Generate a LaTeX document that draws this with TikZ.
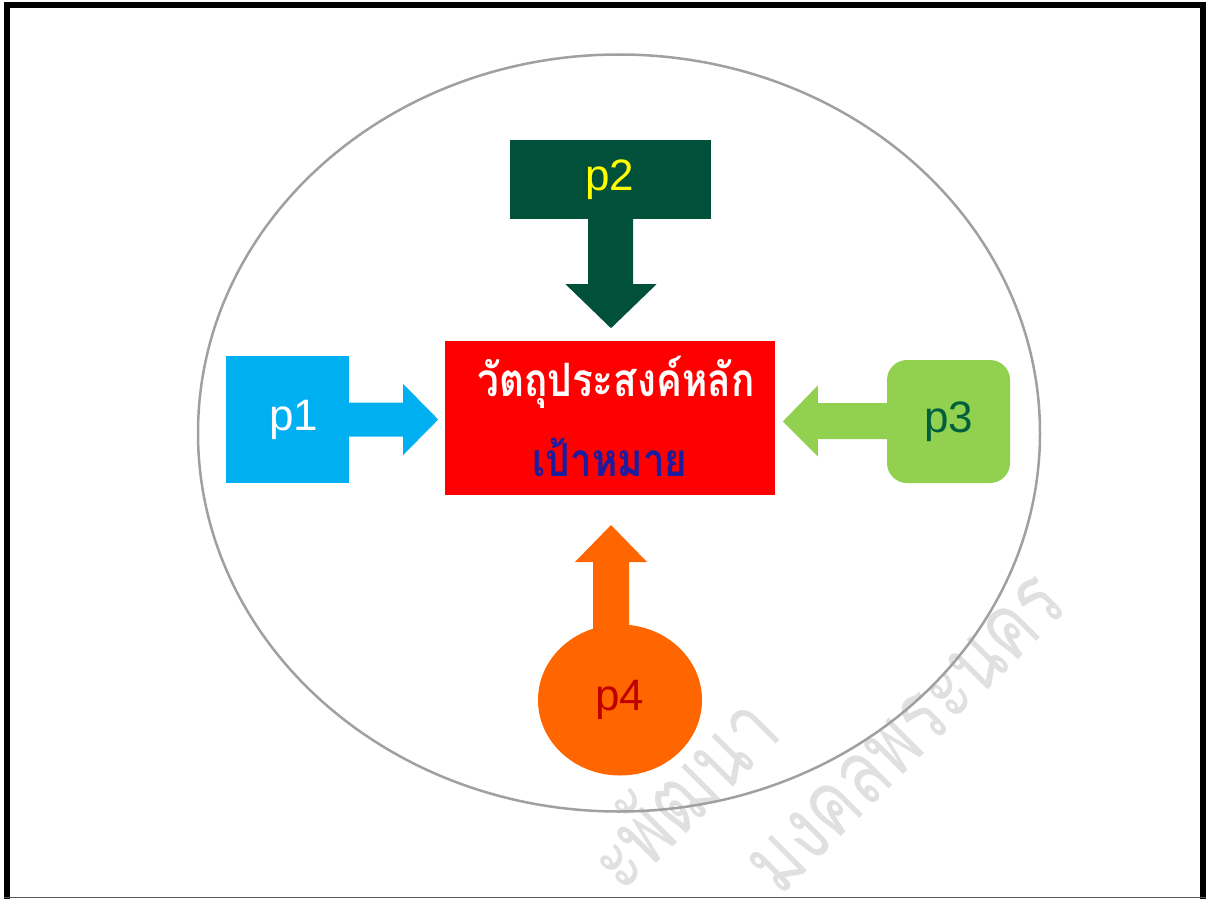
\documentclass[tikz,border=0pt]{standalone}
\usepackage{fontspec}
\setmainfont{Liberation Sans}
\newfontfamily\thaifont[Script=Thai]{Loma}
\usetikzlibrary{calc,shapes.geometric}
\definecolor{pblue}{HTML}{00B0F0}
\definecolor{pdgreen}{HTML}{00503A}
\definecolor{plgreen}{HTML}{92D050}
\definecolor{porange}{HTML}{FF6600}
\definecolor{pdred}{HTML}{C00000}
\definecolor{pnavy}{HTML}{1C1CA0}
\definecolor{ptgreen}{HTML}{00603C}
\definecolor{pyellow}{HTML}{FFFF00}
\definecolor{wmark}{HTML}{E0E0E0}
\definecolor{ringgray}{HTML}{A0A0A0}
\begin{document}
\begin{tikzpicture}[x=1pt,y=-1pt,
  pbox/.style={inner sep=0pt, font=\fontsize{44}{50}\selectfont},
  wm/.style={text=wmark, rotate=45, anchor=base east, inner sep=0pt,
    font=\thaifont\fontsize{90}{100}\selectfont},
  goaltext/.style={inner sep=0pt, font=\thaifont\bfseries\fontsize{46}{52}\selectfont}]
\useasboundingbox (0,0) rectangle (1208,899);
\clip (0,0) rectangle (1208,899);
\fill[white] (0,0) rectangle (1208,899);
% watermark (visible part only)
\node[wm] (wm1) at (784,736) {\scalebox{0.75}[1]{ะพัฒนา}};
\node[wm] (wm2) at (1070,608) {\scalebox{0.75}[1]{มงคลพระนคร}};
% outer ring
\node[ellipse, draw=ringgray, line width=2.5pt, minimum width=842pt,
  minimum height=757pt, inner sep=0pt] (ring) at (619,433) {};
% centre box
\node[fill=red, minimum width=330pt, minimum height=154pt, inner sep=0pt] (goal) at (610,418) {};
\node[goaltext, text=white] (goal1) at (616,382) {\scalebox{0.84}[1]{วัตถุประสงค์หลัก}};
\node[goaltext, text=pnavy] (goal2) at (610,457) {\scalebox{0.84}[1]{เป้าหมาย}};
% p1
\node[pbox, fill=pblue, text=white, minimum width=123pt, minimum height=127pt] (p1) at (287.5,419.5) {\hspace{12pt}p1};
\fill[pblue] ($(p1.east)+(0,-17)$) -- ($(p1.east)+(54,-17)$) -- ($(p1.east)+(54,-35.5)$)
  -- ($(p1.east)+(89,0)$) -- ($(p1.east)+(54,35.5)$) -- ($(p1.east)+(54,17)$)
  -- ($(p1.east)+(0,17)$) -- cycle;
% p2
\node[pbox, fill=pdgreen, text=pyellow, minimum width=201pt, minimum height=79pt] (p2) at (610,179.5) {p2};
\fill[pdgreen] ($(p2.south)+(-22,0)$) -- ($(p2.south)+(-22,65)$) -- ($(p2.south)+(-44.5,65)$)
  -- ($(p2.south)+(1,109)$) -- ($(p2.south)+(46.5,65)$) -- ($(p2.south)+(23,65)$)
  -- ($(p2.south)+(23,0)$) -- cycle;
% p3
\node[pbox, fill=plgreen, text=ptgreen, rounded corners=20pt, minimum width=123pt, minimum height=123pt] (p3) at (948.5,421.5) {p3};
\fill[plgreen] ($(p3.west)+(1,-18.5)$) -- ($(p3.west)+(-69,-18.5)$) -- ($(p3.west)+(-69,-36)$)
  -- ($(p3.west)+(-104,0)$) -- ($(p3.west)+(-69,35)$) -- ($(p3.west)+(-69,17.5)$)
  -- ($(p3.west)+(1,17.5)$) -- cycle;
% p4
\fill[porange] ($(620,700)+(-27,-65)$) -- ($(620,700)+(-27,-138)$) -- ($(620,700)+(-45,-138)$)
  -- ($(620,700)+(-9,-175)$) -- ($(620,700)+(27,-138)$) -- ($(620,700)+(9,-138)$)
  -- ($(620,700)+(9,-65)$) -- cycle;
\node[pbox, ellipse, fill=porange, text=pdred, minimum width=164pt, minimum height=151pt] (p4) at (620,700) {p4};
% frame
\draw[line width=6pt] (7,950) -- (7,5.5) -- (1203,5.5) -- (1203,950);
\draw[gray!70!black, line width=1.2pt] (4,897.5) -- (1206,897.5);
\end{tikzpicture}
\end{document}
